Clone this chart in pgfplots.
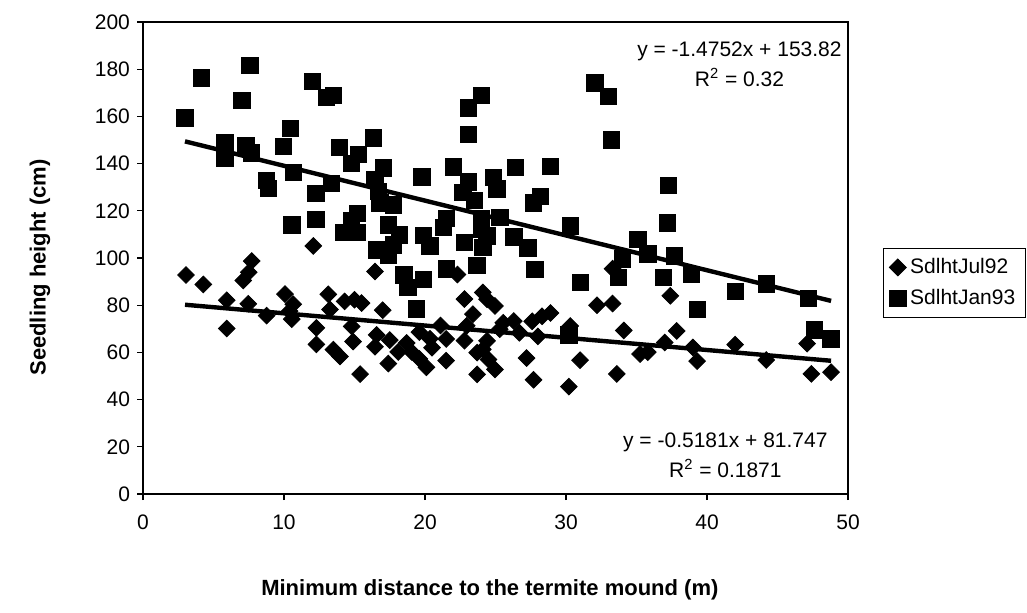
\documentclass[border=0pt]{standalone}
\usepackage{fontspec}
\setmainfont{Liberation Sans}
\usepackage{pgfplots}
\pgfplotsset{compat=1.18}

\pgfplotstableread{
x y
3.05 92.8
4.28 88.8
7.71 98.7
7.5 94.0
7.11 90.5
5.94 82.1
5.94 70.1
7.47 80.6
8.77 75.6
10.07 84.7
10.66 80.4
10.55 74.1
10.4 77.5
12.08 105.1
13.14 84.6
13.26 78.2
12.3 70.4
12.3 63.4
13.5 61.2
13.97 58.3
14.3 81.6
15.0 82.3
15.5 80.9
17.0 77.9
14.8 71.0
14.9 64.6
15.4 50.8
16.45 94.3
16.57 67.4
16.45 62.4
17.5 65.2
18.1 60.2
18.7 64.0
19.05 60.2
19.6 57.3
20.1 53.7
17.4 55.3
19.6 68.6
20.35 65.8
20.5 62.0
21.5 65.7
21.1 71.4
21.5 56.5
22.3 93.0
22.8 82.6
24.1 85.4
22.8 65.0
22.96 71.3
23.4 76.2
23.7 59.9
24.1 61.3
24.5 57.0
23.7 50.7
24.96 52.8
24.4 82.5
24.96 79.7
25.55 72.6
25.3 69.8
26.7 68.3
26.3 73.3
24.4 64.9
27.6 73.2
28.3 75.3
28.9 76.7
28.0 66.8
27.2 57.6
27.7 48.4
30.2 45.5
31.0 56.7
30.3 71.2
32.2 80.0
33.3 80.7
33.3 95.5
34.1 69.3
33.6 50.9
35.25 59.3
35.8 60.1
37.0 64.2
37.85 69.1
37.4 84.0
39.0 62.1
39.3 56.3
42.0 63.3
44.2 56.8
47.1 63.7
47.4 50.9
48.8 51.6
}\juldata

\pgfplotstableread{
x y
2.98 159.4
4.16 176.3
7.59 181.5
7.0 166.7
5.82 148.7
5.82 142.4
7.3 147.5
7.7 144.5
10.47 155.0
9.95 147.3
10.66 136.3
8.77 132.9
8.9 129.5
12.0 174.8
13.0 168.0
13.5 168.8
13.38 131.5
12.25 127.5
12.25 116.4
10.55 114.1
13.92 146.8
15.27 143.9
14.8 140.1
16.33 150.9
17.04 138.1
16.45 133.2
16.69 128.2
16.8 123.3
17.75 122.5
23.07 152.4
23.07 163.6
24.0 168.9
19.77 134.4
22.0 138.6
23.07 132.2
24.84 134.2
25.1 129.2
26.4 138.5
22.7 127.9
23.5 124.4
21.5 116.7
21.3 113.0
24.0 116.5
24.0 112.3
25.3 117.2
15.2 119.0
14.8 115.8
14.2 110.8
15.2 110.8
17.4 114.1
18.2 109.8
17.75 105.5
16.57 103.5
17.4 101.3
19.9 109.7
20.35 105.2
22.8 106.7
24.1 104.5
24.4 109.4
23.67 96.8
18.5 92.8
19.9 91.0
21.5 95.4
18.8 87.5
19.4 78.5
32.06 174.2
33.0 168.5
33.2 150.0
28.9 138.9
27.7 123.4
28.2 126.2
30.3 113.6
37.25 130.7
37.2 114.8
26.3 109.0
27.3 104.3
27.8 95.1
31.0 89.6
35.1 108.0
35.8 101.8
37.7 100.9
34.0 99.7
33.7 91.7
36.9 91.9
38.9 93.1
42.0 85.9
44.2 89.0
47.2 82.8
39.3 78.3
47.6 69.5
48.8 65.7
30.2 67.4
}\jandata

\begin{document}
\begin{tikzpicture}
\begin{axis}[
    scale only axis,
    width=352.5pt,
    height=236pt,
    xmin=0, xmax=50,
    ymin=0, ymax=200,
    xtick={0,10,...,50},
    ytick={0,20,...,200},
    tick pos=left,
    tick align=outside,
    major tick length=3pt,
    axis line style={line width=1pt},
    every tick/.style={black, line width=0.6pt},
    /pgf/number format/assume math mode=true,
    ticklabel style={font=\fontsize{10.5}{12}\selectfont},
    xticklabel style={yshift=-4pt},
    every axis x label/.style={at={(rel axis cs:0.492,0)}, yshift=-48pt, anchor=center},
    every axis y label/.style={at={(rel axis cs:0,0.48)}, xshift=-51.5pt, rotate=90, anchor=center},
    label style={font=\fontsize{11}{13}\selectfont\bfseries},
    xlabel={Minimum distance to the termite mound (m)},
    ylabel={Seedling height (cm)},
    legend style={at={(1.0496,0.447)}, anchor=west, draw=black, line width=0.5pt,
        font=\fontsize{10.5}{12}\selectfont, row sep=2.5pt, inner xsep=3pt, inner ysep=3pt},
    legend cell align=left,
    legend image code/.code={\draw[#1] plot coordinates {(0.12cm,0cm)};},
    clip=false,
]
\addplot[only marks, mark=square*, mark size=2.95pt, mark options={rotate=45, fill=black, draw=black}]
    table[x=x, y=y] {\juldata};
\addlegendentry{SdlhtJul92}
\addplot[only marks, mark=square*, mark size=4.1pt, mark options={fill=black, draw=black}]
    table[x=x, y=y] {\jandata};
\addlegendentry{SdlhtJan93}
\addplot[black, line width=2.2pt, forget plot] coordinates {(2.98,80.20) (48.8,56.46)};
\addplot[black, line width=2.2pt, forget plot] coordinates {(2.98,149.42) (48.8,81.83)};
\node[align=center, font=\fontsize{10.5}{15}\selectfont] at (axis cs:42.3,182.2)
    {y = -1.4752x + 153.82\\R\textsuperscript{2} = 0.32};
\node[align=center, font=\fontsize{10.5}{15}\selectfont] at (axis cs:41.3,16.5)
    {y = -0.5181x + 81.747\\R\textsuperscript{2} = 0.1871};
\end{axis}
\pgfresetboundingbox
\path ([shift={(-71.5pt,-59pt)}]current axis.south west) rectangle ([shift={(89.5pt,11pt)}]current axis.north east);
\end{tikzpicture}
\end{document}
